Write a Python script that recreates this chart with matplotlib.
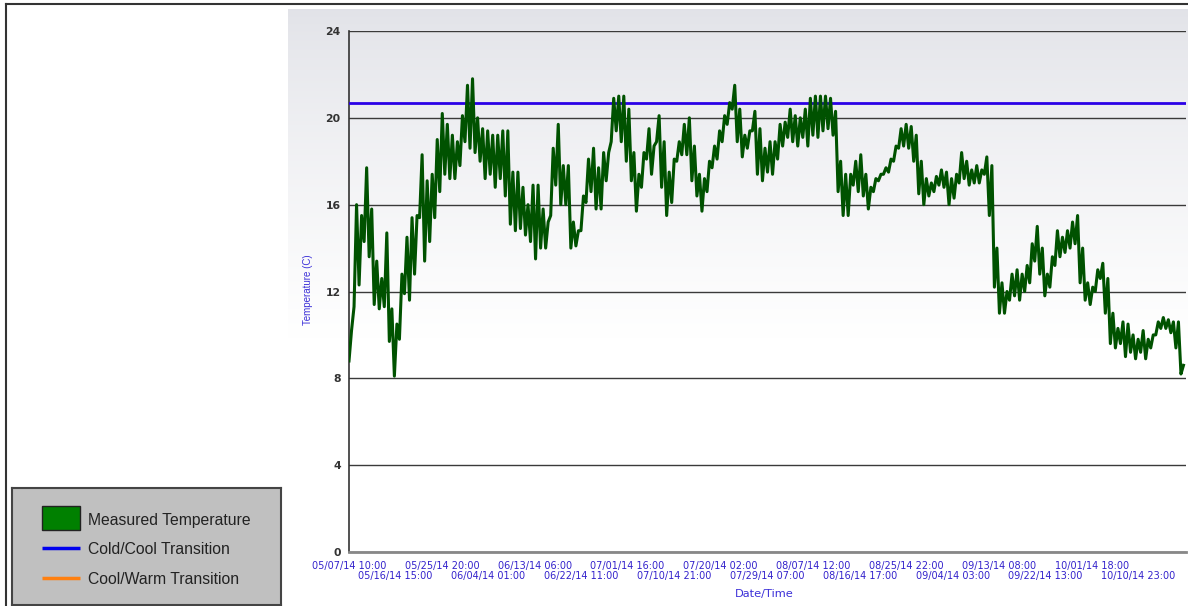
import numpy as np
import matplotlib
matplotlib.use("Agg")
import matplotlib.pyplot as plt
from matplotlib.lines import Line2D
from matplotlib.patches import Rectangle
from matplotlib.transforms import blended_transform_factory

plt.rcParams["font.family"] = ["Liberation Sans", "DejaVu Sans"]

# daily high / low temperature (C), one pair per day from 05/07/14 10:00
day_high = [
    10.2, 16.0, 15.5, 17.7, 15.8, 13.4, 12.6, 14.7, 11.2, 10.5,
    12.8, 14.5, 15.4, 15.5, 18.3, 17.1, 17.4, 19.0, 20.2, 19.7,
    19.2, 18.9, 20.1, 21.5, 21.8, 20.0, 19.5, 19.4, 19.2, 19.2,
    19.4, 19.4, 17.5, 17.5, 16.8, 16.0, 16.9, 16.9, 15.8, 15.2,
    18.6, 19.7, 17.8, 17.8, 15.2, 14.8, 16.4, 18.1, 18.6, 17.7,
    18.4, 18.4, 20.9, 21.0, 21.0, 20.4, 18.4, 17.4, 18.4, 19.5,
    18.7, 20.1, 18.9, 17.5, 18.1, 18.9, 19.7, 20.0, 18.7, 17.4,
    17.2, 18.0, 18.7, 19.4, 20.1, 20.7, 21.5, 20.4, 19.2, 19.4,
    20.3, 19.5, 18.6, 18.9, 18.9, 19.7, 19.8, 20.4, 20.1, 20.0,
    20.4, 20.9, 21.0, 21.0, 21.0, 20.9, 20.3, 18.0, 17.4, 17.4,
    18.0, 18.3, 17.4, 16.8, 17.2, 17.4, 17.7, 18.1, 18.7, 19.5,
    19.7, 19.6, 19.2, 18.0, 17.2, 17.0, 17.3, 17.6, 17.5, 17.2,
    17.4, 18.4, 18.0, 17.6, 17.8, 17.6, 18.2, 17.8, 14.0, 12.4,
    12.0, 12.8, 13.0, 12.8, 13.2, 14.2, 15.0, 14.0, 12.8, 13.6,
    14.8, 14.5, 14.8, 15.2, 15.5, 14.0, 12.4, 12.2, 13.0, 13.3,
    12.6, 11.0, 10.3, 10.6, 10.5, 10.0, 9.8, 10.2, 9.8, 10.0,
    10.6, 10.8, 10.7, 10.6, 10.6, 8.6,
]
day_low = [
    8.8, 11.3, 12.3, 14.3, 13.6, 11.4, 11.2, 11.3, 9.7, 8.1,
    9.8, 11.9, 11.6, 12.8, 15.4, 13.4, 14.3, 15.4, 16.6, 17.4,
    17.2, 17.2, 17.8, 18.9, 18.6, 18.4, 18.0, 17.2, 17.4, 16.8,
    17.2, 16.4, 15.1, 14.8, 14.9, 14.6, 14.3, 13.5, 14.0, 14.0,
    15.5, 16.9, 16.0, 16.0, 14.0, 14.1, 14.8, 16.1, 16.6, 15.8,
    15.8, 17.1, 18.9, 19.4, 18.9, 18.0, 17.1, 15.7, 16.8, 18.1,
    17.4, 18.9, 16.8, 15.5, 16.1, 18.0, 18.3, 18.3, 17.1, 16.4,
    15.7, 16.6, 17.7, 18.1, 18.9, 19.7, 20.4, 18.9, 18.2, 18.6,
    19.4, 17.4, 17.1, 17.5, 17.4, 18.1, 18.7, 19.1, 18.9, 18.7,
    19.1, 18.7, 19.2, 19.1, 19.4, 19.5, 19.2, 16.6, 15.5, 15.5,
    16.9, 16.6, 16.4, 15.8, 16.6, 17.1, 17.4, 17.5, 18.0, 18.6,
    18.7, 18.6, 18.0, 16.5, 16.0, 16.4, 16.6, 16.9, 16.8, 16.0,
    16.3, 17.0, 17.2, 16.9, 17.0, 17.0, 17.4, 15.5, 12.2, 11.0,
    11.0, 11.6, 11.8, 11.6, 12.0, 12.4, 13.4, 12.8, 11.8, 12.2,
    13.2, 13.6, 13.8, 14.0, 14.2, 12.4, 11.6, 11.4, 12.0, 12.6,
    11.0, 9.6, 9.4, 9.6, 9.0, 9.2, 8.9, 9.2, 8.9, 9.4,
    10.0, 10.3, 10.3, 10.1, 9.4, 8.2,
]
cold_cool = 20.7

tick_labels = [
    "05/07/14 10:00", "05/16/14 15:00", "05/25/14 20:00", "06/04/14 01:00",
    "06/13/14 06:00", "06/22/14 11:00", "07/01/14 16:00", "07/10/14 21:00",
    "07/20/14 02:00", "07/29/14 07:00", "08/07/14 12:00", "08/16/14 17:00",
    "08/25/14 22:00", "09/04/14 03:00", "09/13/14 08:00", "09/22/14 13:00",
    "10/01/14 18:00", "10/10/14 23:00",
]
tick_step_days = 221 / 24  # labels every 9 days 5 hours

BLUE_TXT = "#3b2fd8"
W, H = 1188, 606
fig = plt.figure(figsize=(W / 100, H / 100), dpi=100)
fig.patch.set_facecolor("white")

# grey gradient panel behind the chart
bg = fig.add_axes([288 / W, 0, (W - 288) / W, (H - 9) / H], zorder=0)
rows = np.linspace(0, 1, 400)[:, None]
t = np.clip(rows / 0.55, 0, 1) ** 0.8
top = np.array([0.885, 0.889, 0.91])
grad = top + (1 - top) * t
bg.imshow(np.repeat(grad[:, None, :], 2, axis=1), aspect="auto", extent=[0, 1, 0, 1])
bg.axis("off")

# outer frame (top and left)
fig.add_artist(Line2D([5.5 / W, 1], [1 - 3.5 / H] * 2, color="#333333", lw=1.5))
fig.add_artist(Line2D([5.5 / W] * 2, [0, 1 - 3.5 / H], color="#333333", lw=1.5))

ax = fig.add_axes([349 / W, 54 / H, 837 / W, 521 / H], zorder=2)
ax.set_facecolor("none")

days = np.arange(len(day_high))
x = np.column_stack([days, days + 0.5]).ravel()
y = np.column_stack([day_low, day_high]).ravel()
ax.plot(x, y, color="#005200", lw=2.2, zorder=4)
ax.axhline(cold_cool, color="#2a00e6", lw=2.0, zorder=3)

ax.set_xlim(0, 166)
ax.set_ylim(0, 24)
ax.set_yticks(np.arange(0, 25, 4))
ax.tick_params(axis="y", length=0, pad=6)
for lab in ax.get_yticklabels():
    lab.set(fontfamily="DejaVu Sans", fontweight="bold", fontsize=7.8, color="#333333")

# x tick labels in two staggered rows
xt = np.arange(len(tick_labels)) * tick_step_days
ax.set_xticks(xt)
ax.set_xticklabels([])
ax.tick_params(axis="x", length=0)
tr = blended_transform_factory(ax.transData, fig.transFigure)
for i, (pos, s) in enumerate(zip(xt, tick_labels)):
    yy = 565.5 if i % 2 == 0 else 575.5
    ax.text(pos, 1 - yy / H, s, transform=tr, ha="center", va="center",
            fontsize=7.0, fontfamily="DejaVu Sans", color="#3322cc")

ax.yaxis.grid(True, color="#3a3a3a", lw=1.0)
ax.set_axisbelow(True)
ax.spines["top"].set_visible(False)
ax.spines["right"].set_visible(False)
ax.spines["left"].set_color("#333333")
ax.spines["left"].set_linewidth(1.2)
ax.spines["bottom"].set_color("#888888")
ax.spines["bottom"].set_linewidth(2.0)

fig.text(308 / W, 1 - 290 / H, "Temperature (C)", rotation=90, ha="center", va="center",
         fontsize=7, color=BLUE_TXT)
fig.text(764 / W, 1 - 594 / H, "Date/Time", ha="center", va="center",
         fontsize=8.2, fontfamily="DejaVu Sans", color=BLUE_TXT)

# legend box drawn in pixel coordinates
lg = fig.add_axes([12 / W, 1 / H, 269 / W, 117 / H], zorder=3)
lg.set_xlim(12, 281)
lg.set_ylim(605, 488)
lg.set_facecolor("#c0c0c0")
lg.set_xticks([])
lg.set_yticks([])
for s in lg.spines.values():
    s.set_color("#444444")
    s.set_linewidth(1.5)
lg.add_patch(Rectangle((42, 506), 38, 24, fc="#008000", ec="#222222", lw=1.0))
lg.plot([42, 80], [548, 548], color="#0000ee", lw=2.5, solid_capstyle="butt")
lg.plot([42, 80], [578, 578], color="#ff8010", lw=2.5, solid_capstyle="butt")
for yy, txt in [(520, "Measured Temperature"), (549, "Cold/Cool Transition"),
                (579, "Cool/Warm Transition")]:
    lg.text(88, yy, txt, ha="left", va="center", fontsize=11.3, color="#222222")

fig.savefig("out.png", dpi=100)
